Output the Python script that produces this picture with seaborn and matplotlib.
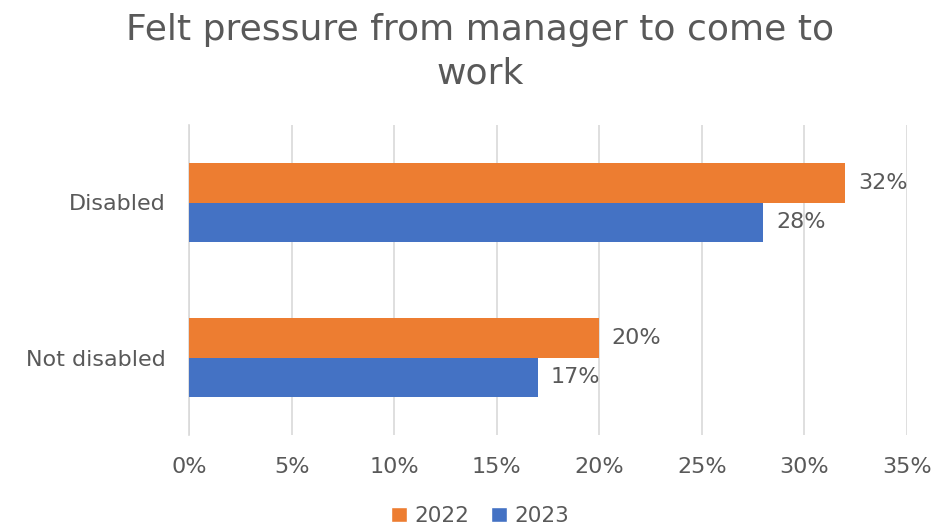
import matplotlib
matplotlib.use("Agg")
import matplotlib.pyplot as plt
import seaborn as sns
import pandas as pd
from matplotlib.ticker import PercentFormatter
from matplotlib.patches import Patch

categories = ["Disabled", "Not disabled"]
years = ["2022", "2023"]
values_2022 = [32, 20]
values_2023 = [28, 17]
x_ticks = [0, 5, 10, 15, 20, 25, 30, 35]

df = pd.DataFrame({
    "group": categories * 2,
    "year": [years[0]] * len(categories) + [years[1]] * len(categories),
    "value": values_2022 + values_2023,
})

sns.set_theme(style="white")
plt.rcParams["font.family"] = ["DejaVu Sans"]
text_color = "#595959"

fig = plt.figure(figsize=(9.4, 5.28), dpi=100)
ax = fig.add_axes([189 / 940, 1 - 435 / 528, (907 - 189) / 940, (435 - 125) / 528])

palette = {"2022": "#ED7D31", "2023": "#4472C4"}
sns.barplot(data=df, y="group", x="value", hue="year", order=categories,
            hue_order=years, palette=palette, orient="h", width=0.516,
            saturation=1, ax=ax, legend=False, zorder=3, linewidth=0)

for container in ax.containers:
    ax.bar_label(container, labels=[f"{v:.0f}%" for v in container.datavalues],
                 padding=9, fontsize=16, color=text_color)

ax.set_xlim(0, 35)
ax.set_ylim(1.5, -0.5)
ax.set_xticks(x_ticks)
ax.xaxis.set_major_formatter(PercentFormatter(decimals=0))
ax.grid(axis="x", color="#D9D9D9", linewidth=1.2, zorder=0)
ax.grid(axis="y", visible=False)
for s in ["top", "right", "bottom"]:
    ax.spines[s].set_visible(False)
ax.spines["left"].set_color("#D9D9D9")
ax.spines["left"].set_linewidth(1.2)
ax.tick_params(axis="both", length=0, labelsize=16, colors=text_color)
ax.tick_params(axis="x", pad=16)
ax.tick_params(axis="y", pad=17)
ax.set_xlabel("")
ax.set_ylabel("")

fig.suptitle("Felt pressure from manager to come to\nwork", x=480 / 940, y=1 - 13 / 528,
             va="top", fontsize=26, color=text_color, linespacing=1.35)

handles = [Patch(facecolor=palette[y], label=y) for y in years]
fig.legend(handles=handles, loc="center", bbox_to_anchor=(480 / 940, 1 - 516 / 528),
           ncol=2, frameon=False, fontsize=15.5, labelcolor=text_color,
           handlelength=0.75, handleheight=0.75, handletextpad=0.35, columnspacing=1.0)

fig.savefig("out.png", dpi=100)
